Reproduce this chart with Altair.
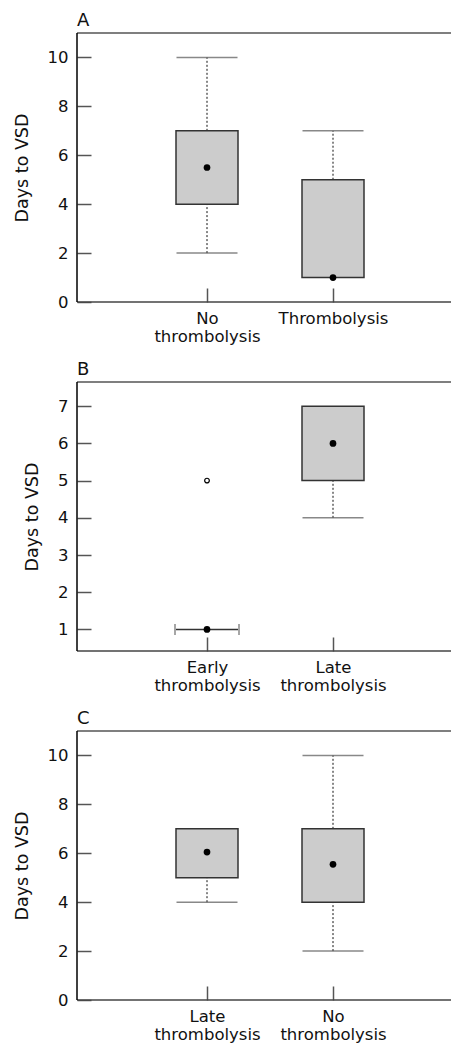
import altair as alt
import pandas as pd

FONT = "DejaVu Sans"
W = 366
H = 269

# ---- data ----
# Panel A
a_groups = ["No thrombolysis", "Thrombolysis"]
a_lower = [2, 1]
a_q1 = [4, 1]
a_median = [5.5, 1]
a_q3 = [7, 5]
a_upper = [10, 7]
a_out_group = []
a_out_value = []

# Panel B
b_groups = ["Early thrombolysis", "Late thrombolysis"]
b_lower = [1, 4]
b_q1 = [1, 5]
b_median = [1, 6]
b_q3 = [1, 7]
b_upper = [1, 7]
b_out_group = ["Early thrombolysis"]
b_out_value = [5]

# Panel C
c_groups = ["Late thrombolysis", "No thrombolysis"]
c_lower = [4, 2]
c_q1 = [5, 4]
c_median = [6.05, 5.55]
c_q3 = [7, 7]
c_upper = [7, 10]
c_out_group = []
c_out_value = []

y_ticks_ac = [0, 2, 4, 6, 8, 10]
y_ticks_b = [1, 2, 3, 4, 5, 6, 7]


def panel(label, groups, lower, q1, med, q3, upper, og, ov, ydom, yticks):
    box = pd.DataFrame({"g": groups, "q1": q1, "q3": q3, "med": med})
    wh = []
    caps = []
    flat = []
    for g, lo, a, b, hi in zip(groups, lower, q1, q3, upper):
        if hi > b:
            wh.append({"g": g, "from": b, "to": hi})
            caps.append({"g": g, "v": hi})
        if lo < a:
            wh.append({"g": g, "from": lo, "to": a})
            caps.append({"g": g, "v": lo})
        if a == b:
            flat.append({"g": g, "v": a})
    wh = pd.DataFrame(wh, columns=["g", "from", "to"])
    caps = pd.DataFrame(caps, columns=["g", "v"])
    flat = pd.DataFrame(flat, columns=["g", "v"])
    outs = pd.DataFrame({"g": og, "v": ov})

    x = alt.X(
        "g:N",
        sort=groups,
        scale=alt.Scale(type="point", domain=groups, range=[130, 256], padding=0),
        axis=alt.Axis(
            title=None,
            labelAngle=0,
            domain=False,
            offset=-14,
            tickSize=14,
            tickColor="#555555",
            tickWidth=1.5,
            labelPadding=8,
            labelFont=FONT,
            labelFontSize=16.5,
            labelColor="#111111",
            labelLineHeight=18,
            labelExpr="split(datum.label, ' ')",
        ),
    )
    yscale = alt.Scale(domain=ydom, nice=False, zero=False)
    yaxis = alt.Axis(
        title="Days to VSD",
        values=yticks,
        grid=False,
        domain=False,
        offset=-14,
        tickSize=14,
        tickColor="#555555",
        tickWidth=1.5,
        labelPadding=9,
        labelFont=FONT,
        labelFontSize=16.5,
        labelColor="#111111",
        titleFont=FONT,
        titleFontSize=17.5,
        titleFontWeight="normal",
        titleColor="#111111",
        titlePadding=16,
    )
    Y = lambda f: alt.Y(f, scale=yscale, axis=yaxis)

    one = pd.DataFrame({"d": [0]})
    layers = [
        # frame lines
        alt.Chart(one).mark_rule(color="#555555", strokeWidth=1.5).encode(
            x=alt.value(0), x2=alt.value(W + 8), y=alt.value(0)
        ),
        alt.Chart(one).mark_rule(color="#444444", strokeWidth=1.5).encode(
            x=alt.value(0), x2=alt.value(W + 8), y=alt.value("height")
        ),
        alt.Chart(one).mark_rule(color="#000000", strokeWidth=1.5).encode(
            x=alt.value(0), y=alt.value(0), y2=alt.value("height")
        ),
    ]
    layers.append(
        alt.Chart(wh).mark_rule(color="#111111", strokeDash=[2, 2], strokeWidth=1).encode(
            x=x, y=Y("from:Q"), y2="to:Q"
        )
    )
    layers.append(
        alt.Chart(caps).mark_tick(color="#555555", thickness=1.5, size=61).encode(x=x, y=Y("v:Q"))
    )
    layers.append(
        alt.Chart(box).mark_bar(fill="#cccccc", stroke="#333333", strokeWidth=1.5, size=62).encode(
            x=x, y=Y("q1:Q"), y2="q3:Q"
        )
    )
    if len(flat):
        for off in (-32, 32):
            layers.append(
                alt.Chart(flat).mark_tick(
                    orient="vertical", color="#555555", thickness=1.5, size=11, xOffset=off
                ).encode(x=x, y=Y("v:Q"))
            )
    layers.append(
        alt.Chart(box).mark_point(filled=True, color="black", size=45, opacity=1).encode(
            x=x, y=Y("med:Q")
        )
    )
    if len(outs):
        layers.append(
            alt.Chart(outs).mark_point(color="black", size=22, strokeWidth=1.2, opacity=1).encode(
                x=x, y=Y("v:Q")
            )
        )
    return alt.layer(*layers).properties(
        width=W,
        height=H,
        title=alt.TitleParams(
            label, anchor="start", frame="group", fontSize=18, fontWeight="normal",
            font=FONT, color="#111111", offset=2
        ),
    )


pa = panel("A", a_groups, a_lower, a_q1, a_median, a_q3, a_upper, a_out_group, a_out_value, [0, 11], y_ticks_ac)
pb = panel("B", b_groups, b_lower, b_q1, b_median, b_q3, b_upper, b_out_group, b_out_value, [0.42, 7.65], y_ticks_b)
pc = panel("C", c_groups, c_lower, c_q1, c_median, c_q3, c_upper, c_out_group, c_out_value, [0, 11], y_ticks_ac)

chart = (
    alt.vconcat(pa, pb, pc, spacing=16)
    .properties(padding={"left": 5, "top": 4, "right": 0, "bottom": 0})
    .configure(background="white")
    .configure_view(strokeWidth=0, stroke=None)
)

chart.save("out.html", embed_options={"renderer": "svg", "actions": False})
